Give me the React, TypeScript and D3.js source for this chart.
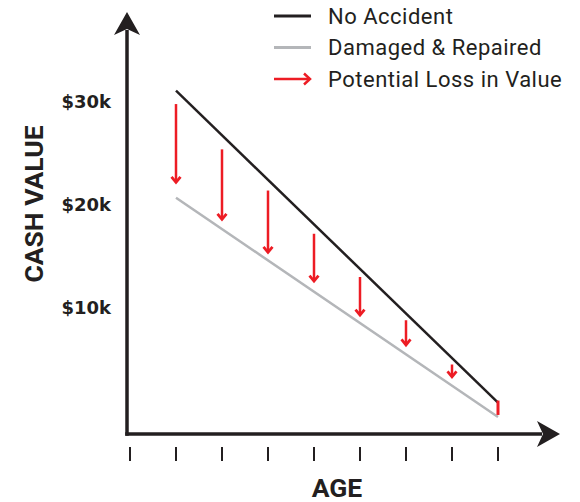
import * as d3 from "d3";

// ages on the x axis (tick marks only, no labels)
const ages = [0, 1, 2, 3, 4, 5, 6, 7, 8];

// the two value lines, in $k
const lineAges = [1, 8];
const noAccident = [31.1, 0.8];
const repaired = [20.7, -0.6];

// red "loss" arrows, in $k (from -> to)
const lossAges = [1, 2, 3, 4, 5, 6, 7, 8];
const lossFrom = [29.8, 25.4, 21.4, 17.2, 13.0, 8.8, 4.5, 1.0];
const lossTo = [22.1, 18.5, 15.3, 12.5, 9.2, 6.3, 3.2, -0.4];

const yTicks = [10, 20, 30];

const legendItems = [
  { label: "No Accident", kind: "black" },
  { label: "Damaged & Repaired", kind: "gray" },
  { label: "Potential Loss in Value", kind: "arrow" },
];

const W = 580, H = 502;
const INK = "#231f20";
const GRAY = "#b4b6b9";
const RED = "#ed1c24";
const FONT = "Roboto, 'DejaVu Sans', sans-serif";
const WIDE = "'DejaVu Sans', Roboto, sans-serif";

export default function App() {
  const x = d3.scaleLinear().domain([0, 8]).range([130, 498]);
  const y = d3.scaleLinear().domain([-2.25, 30]).range([434, 102]);

  const originX = 127;
  const originY = y(-2.25);

  const line = d3
    .line<[number, number]>()
    .x((d) => x(d[0]))
    .y((d) => y(d[1]));

  const blackPts = lineAges.map((a, i) => [a, noAccident[i]] as [number, number]);
  const grayPts = lineAges.map((a, i) => [a, repaired[i]] as [number, number]);

  return (
    <svg
      width={W}
      height={H}
      style={{ position: "absolute", left: 0, top: 0, background: "#fff" }}
      fontFamily={FONT}
    >
      {/* axes */}
      <line x1={originX} x2={originX} y1={originY + 1.75} y2={30} stroke={INK} strokeWidth={3.5} />
      <path d={`M${originX},12 L${originX + 13},35 L${originX},29 L${originX - 13},35 Z`} fill={INK} />
      <line x1={originX - 1.75} x2={542} y1={originY} y2={originY} stroke={INK} strokeWidth={3.5} />
      <path d={`M560,${originY} L537,${originY + 13} L543,${originY} L537,${originY - 13} Z`} fill={INK} />

      {/* x ticks */}
      {ages.map((a) => (
        <line key={a} x1={x(a)} x2={x(a)} y1={447} y2={461} stroke={INK} strokeWidth={2} />
      ))}

      {/* y tick labels */}
      {yTicks.map((t) => (
        <text
          key={t}
          x={111}
          y={y(t)}
          dy="0.36em"
          textAnchor="end"
          fontFamily={WIDE}
          fontSize={18}
          fontWeight={700}
          fill={INK}
        >
          ${t}k
        </text>
      ))}

      {/* axis titles */}
      <text
        transform={`translate(43,204) rotate(-90)`}
        textAnchor="middle"
        fontSize={26.5}
        fontWeight={700}
        fill={INK}
      >
        CASH VALUE
      </text>
      <text x={337} y={497} textAnchor="middle" fontSize={26.5} fontWeight={700} fill={INK}>
        AGE
      </text>

      {/* value lines */}
      <path d={line(grayPts) ?? ""} fill="none" stroke={GRAY} strokeWidth={2.5} />
      <path d={line(blackPts) ?? ""} fill="none" stroke={INK} strokeWidth={2.5} />

      {/* loss arrows (the last one is only a bar where the lines meet) */}
      {lossAges.map((a, i) => {
        const cx = x(a);
        const y0 = y(lossFrom[i]);
        const y1 = y(lossTo[i]);
        const head = i < lossAges.length - 1;
        return (
          <g key={a}>
            <line x1={cx} x2={cx} y1={y0} y2={head ? y1 - 1 : y1} stroke={RED} strokeWidth={head ? 2.5 : 3} />
            {head && (
              <path
                d={`M${cx - 4.5},${y1 - 6.5} L${cx},${y1 - 1} L${cx + 4.5},${y1 - 6.5}`}
                fill="none"
                stroke={RED}
                strokeWidth={2.8}
              />
            )}
          </g>
        );
      })}

      {/* legend */}
      {legendItems.map((it, i) => {
        const ly = 16 + i * 31.5;
        return (
          <g key={it.label}>
            {it.kind === "arrow" ? (
              <>
                <line x1={274} x2={310} y1={ly} y2={ly} stroke={RED} strokeWidth={2.5} />
                <path d={`M304,${ly - 5.5} L310,${ly} L304,${ly + 5.5}`} fill="none" stroke={RED} strokeWidth={2.5} />
              </>
            ) : (
              <line
                x1={274}
                x2={311}
                y1={ly}
                y2={ly}
                stroke={it.kind === "black" ? INK : GRAY}
                strokeWidth={2.8}
              />
            )}
            <text x={328} y={ly} dy="0.36em" fontSize={22} letterSpacing={0.5} fill={INK}>
              {it.label}
            </text>
          </g>
        );
      })}
    </svg>
  );
}
